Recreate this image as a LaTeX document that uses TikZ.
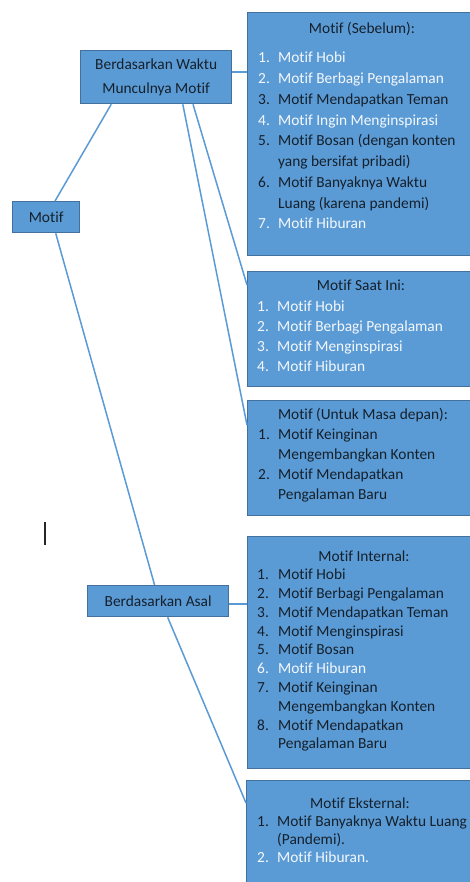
\documentclass[tikz,border=0pt]{standalone}
\usepackage{fontspec}
\setmainfont{Carlito}[Ligatures={NoCommon}]
\usetikzlibrary{calc}
\definecolor{boxfill}{HTML}{5B9BD5}
\definecolor{boxline}{HTML}{41719C}
\definecolor{connc}{HTML}{5B9BD5}
\definecolor{dk}{HTML}{15202B}
\definecolor{wt}{HTML}{F4F8FC}
\newcommand\itm[3]{\textcolor{#1}{#2}&\textcolor{#1}{#3}\\}
\begin{document}
\begin{tikzpicture}[x=1pt,y=1pt,
  box/.style={draw=boxline, line width=1.3pt, fill=boxfill, inner sep=0pt, text=dk, anchor=north west},
  connector/.style={draw=connc, line width=1.5pt},
  ttl/.style={inner sep=0pt, text=dk, font=\fontsize{15.4}{18}\selectfont},
  lst/.style={inner sep=0pt, anchor=north west, align=left}]
\useasboundingbox (0,0) rectangle (470,-882);
\clip (0,0) rectangle (470,-882);
\fill[white] (0,0) rectangle (470,-882);

% left boxes
\node[box, minimum width=67, minimum height=31, font=\fontsize{15.4}{18}\selectfont] (motif) at (12,-201) {Motif};
\node[box, minimum width=151, minimum height=53, align=center, font=\fontsize{15.4}{24}\selectfont] (waktu) at (80,-50) {Berdasarkan Waktu\\Munculnya Motif};
\node[box, minimum width=141, minimum height=31, font=\fontsize{15.4}{18}\selectfont] (asal) at (87,-585) {Berdasarkan Asal};

% right boxes
\node[box, minimum width=240, minimum height=243] (sebelum) at (247,-12) {};
\node[box, minimum width=240, minimum height=115] (saatini) at (247,-271) {};
\node[box, minimum width=240, minimum height=115] (masa) at (247,-400) {};
\node[box, minimum width=240, minimum height=232] (internal) at (247,-536) {};
\node[box, minimum width=240, minimum height=120] (eksternal) at (246,-780) {};

% titles
\node[ttl] (tsebelum) at (362,-29) {Motif (Sebelum):};
\node[ttl] (tsaatini) at (361,-285) {Motif Saat Ini:};
\node[ttl] (tmasa) at (363,-415) {Motif (Untuk Masa depan):};
\node[ttl] (tinternal) at (364,-556) {Motif Internal:};
\node[ttl] (teksternal) at (360,-803) {Motif Eksternal:};

% lists
\node[lst, font=\fontsize{15.4}{20.75}\selectfont] (lsebelum) at (258,-48.1) {%
\begin{tabular}{@{}p{20pt}@{}l@{}}
\itm{wt}{1.}{Motif Hobi}
\itm{wt}{2.}{Motif Berbagi Pengalaman}
\itm{dk}{3.}{Motif Mendapatkan Teman}
\itm{wt}{4.}{Motif Ingin Menginspirasi}
\itm{dk}{5.}{Motif Bosan (dengan konten}
\itm{dk}{}{yang bersifat pribadi)}
\itm{dk}{6.}{Motif Banyaknya Waktu}
\itm{dk}{}{Luang (karena pandemi)}
\itm{wt}{7.}{Motif Hiburan}
\end{tabular}};

\node[lst, font=\fontsize{15.4}{20}\selectfont] (lsaatini) at (257,-297.6) {%
\begin{tabular}{@{}p{20pt}@{}l@{}}
\itm{wt}{1.}{Motif Hobi}
\itm{wt}{2.}{Motif Berbagi Pengalaman}
\itm{wt}{3.}{Motif Menginspirasi}
\itm{wt}{4.}{Motif Hiburan}
\end{tabular}};

\node[lst, font=\fontsize{15.4}{20}\selectfont] (lmasa) at (258,-425.6) {%
\begin{tabular}{@{}p{20pt}@{}l@{}}
\itm{dk}{1.}{Motif Keinginan}
\itm{dk}{}{Mengembangkan Konten}
\itm{dk}{2.}{Motif Mendapatkan}
\itm{dk}{}{Pengalaman Baru}
\end{tabular}};

\node[lst, font=\fontsize{15.4}{18.78}\selectfont] (linternal) at (257,-566.5) {%
\begin{tabular}{@{}p{21pt}@{}l@{}}
\itm{dk}{1.}{Motif Hobi}
\itm{dk}{2.}{Motif Berbagi Pengalaman}
\itm{dk}{3.}{Motif Mendapatkan Teman}
\itm{dk}{4.}{Motif Menginspirasi}
\itm{dk}{5.}{Motif Bosan}
\itm{wt}{6.}{Motif Hiburan}
\itm{dk}{7.}{Motif Keinginan}
\itm{dk}{}{Mengembangkan Konten}
\itm{dk}{8.}{Motif Mendapatkan}
\itm{dk}{}{Pengalaman Baru}
\end{tabular}};

\node[lst, font=\fontsize{15.4}{18}\selectfont] (leksternal) at (257,-814) {%
\begin{tabular}{@{}p{20pt}@{}l@{}}
\itm{dk}{1.}{Motif Banyaknya Waktu Luang}
\itm{dk}{}{(Pandemi).}
\itm{wt}{2.}{Motif Hiburan.}
\end{tabular}};

% connectors
\draw[connector] ($(motif.north west)!0.63!(motif.north east)$) -- ($(waktu.south west)!0.205!(waktu.south east)$);
\draw[connector] ($(motif.south west)!0.64!(motif.south east)$) -- ($(asal.north west)!0.475!(asal.north east)$);
\draw[connector] ($(asal.south west)!0.567!(asal.south east)$) -- ($(eksternal.north west)+(0,-23)$);
\draw[connector] ($(waktu.north east)+(0,-22)$) -- ($(sebelum.north west)+(0,-60)$);
\draw[connector] ($(waktu.south west)!0.742!(waktu.south east)$) -- ($(saatini.north west)+(0,-14)$);
\draw[connector] ($(waktu.south west)!0.675!(waktu.south east)$) -- ($(masa.north west)+(0,-25)$);
\draw[connector] ($(asal.north east)+(0,-19)$) -- ($(internal.north west)+(0,-68)$);

% text cursor mark
\draw[line width=1.6pt, black!85] (45,-522) -- (45,-545);
\end{tikzpicture}
\end{document}
